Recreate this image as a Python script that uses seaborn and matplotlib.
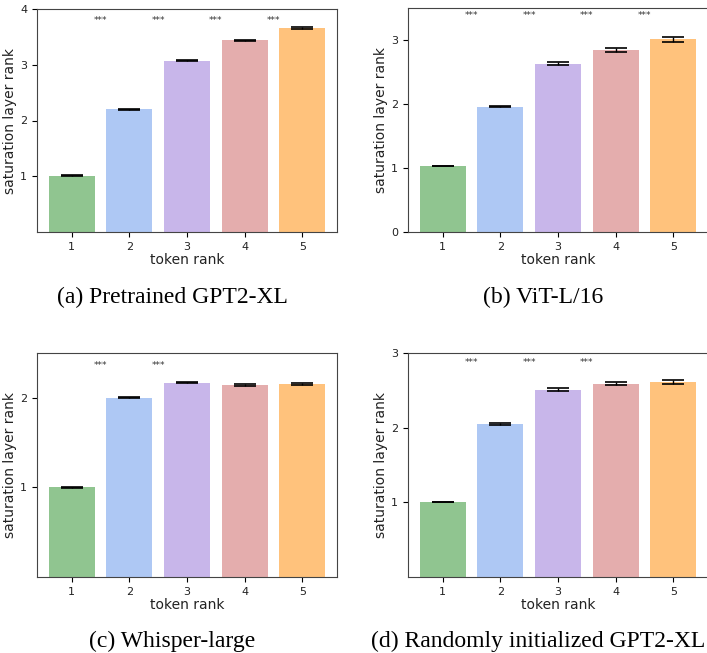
import matplotlib
matplotlib.use("Agg")
import matplotlib.pyplot as plt
import seaborn as sns
import numpy as np
import pandas as pd

ranks = ["1", "2", "3", "4", "5"]
colors = ["#90c590", "#aec8f4", "#c8b6ea", "#e4adad", "#ffc27c"]

vals_a = [1.01, 2.20, 3.07, 3.44, 3.66]
errs_a = [0.008, 0.006, 0.010, 0.010, 0.015]
vals_b = [1.03, 1.96, 2.63, 2.85, 3.01]
errs_b = [0.005, 0.010, 0.020, 0.030, 0.040]
vals_c = [1.00, 2.00, 2.17, 2.14, 2.155]
errs_c = [0.004, 0.004, 0.010, 0.010, 0.010]
vals_d = [1.005, 2.05, 2.51, 2.59, 2.61]
errs_d = [0.004, 0.010, 0.020, 0.020, 0.030]

stars_a = [0, 1, 2, 3]
stars_b = [0, 1, 2, 3]
stars_c = [0, 1]
stars_d = [0, 1, 2]

star_y = [3.79, 3.38, 2.36, 2.87]
ylims = [(0, 4), (0, 3.5), (0, 2.5), (0, 3)]
yticks = [[1, 2, 3, 4], [0, 1, 2, 3], [1, 2], [1, 2, 3]]
captions = ["(a) Pretrained GPT2-XL", "(b) ViT-L/16", "(c) Whisper-large",
            "(d) Randomly initialized GPT2-XL"]

panels = [(vals_a, errs_a, stars_a), (vals_b, errs_b, stars_b),
          (vals_c, errs_c, stars_c), (vals_d, errs_d, stars_d)]

W, H = 707, 653
fig = plt.figure(figsize=(W / 100, H / 100), dpi=100)

# axes boxes in pixels: left, top, right, bottom
boxes = [(37, 9, 337, 232), (408, 8, 708, 232), (37, 353, 337, 577), (408, 353, 708, 577)]
cap_pos = [(172, 297), (543, 297), (172, 641), (538, 641)]

for i, ((vals, errs, stars), box) in enumerate(zip(panels, boxes)):
    l, t, r, b = box
    ax = fig.add_axes([l / W, 1 - b / H, (r - l) / W, (b - t) / H])
    df = pd.DataFrame({"rank": ranks, "value": vals})
    sns.barplot(data=df, x="rank", y="value", hue="rank", palette=colors,
                legend=False, ax=ax, width=0.8, errorbar=None, saturation=1)
    ax.errorbar(np.arange(len(vals)), vals, yerr=errs, fmt="none", ecolor="black",
                elinewidth=1.0, capsize=8, capthick=1.2)
    for s in stars:
        ax.text(s + 0.5, star_y[i], "***", ha="center", va="center", fontsize=6.5,
                color="#333333")
    ax.set_ylim(*ylims[i])
    ax.set_yticks(yticks[i])
    ax.set_xlim(-0.6, 4.6)
    ax.set_xlabel("token rank", fontsize=10, labelpad=1, color="#222222")
    ax.set_ylabel("saturation layer rank", fontsize=10, labelpad=2, color="#222222")
    ax.tick_params(labelsize=8, labelcolor="#222222")
    for sp in ax.spines.values():
        sp.set_color("#444444")
    cx, cy = cap_pos[i]
    fig.text(cx / W, 1 - cy / H, captions[i], ha="center", va="center",
             fontsize=17, family="Liberation Serif")

fig.savefig("out.png", dpi=100)
